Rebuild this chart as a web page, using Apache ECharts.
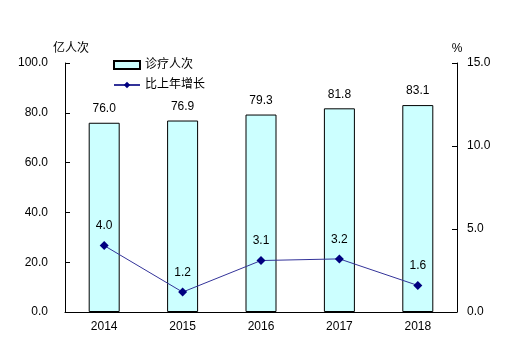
<!DOCTYPE html>
<html><head><meta charset="utf-8">
<script src="https://cdn.jsdelivr.net/npm/echarts@6/dist/echarts.min.js"></script>
<style>html,body{margin:0;padding:0;background:#fff}#c{width:519px;height:342px}</style>
</head><body><div id="c"></div>
<script>
const categories = ['2014','2015','2016','2017','2018'];
const visits = [76.0, 76.9, 79.3, 81.8, 83.1];
const growth = [4.0, 1.2, 3.1, 3.2, 1.6];
const leftTicks = {min:0, max:100, interval:20};
const rightTicks = {min:0, max:15, interval:5};

const font = 'Arial, "Liberation Sans", "Noto Sans CJK SC", sans-serif';
const chart = echarts.init(document.getElementById('c'));
chart.setOption({
  animation:false,
  textStyle:{fontFamily:font, color:'#000'},
  grid:{left:65, right:62, top:63, bottom:30},
  legend:{
    orient:'vertical', left:108, top:54, itemGap:8, itemWidth:26, itemHeight:8,
    textStyle:{fontSize:12, color:'#000', fontFamily:font},
    data:[{name:'诊疗人次', icon:'rect'},{name:'比上年增长'}]
  },
  xAxis:{
    type:'category', data:categories,
    axisLine:{lineStyle:{color:'#000', width:1}},
    axisTick:{inside:true, length:5, lineStyle:{color:'#000'}},
    axisLabel:{fontSize:12, color:'#000', margin:9, fontFamily:font}
  },
  yAxis:[{
    type:'value', ...leftTicks, name:'亿人次', nameGap:8,
    nameTextStyle:{fontSize:12, color:'#000', align:'center', padding:[0,0,0,12], fontFamily:font},
    axisLine:{show:true, lineStyle:{color:'#000'}},
    axisTick:{show:true, inside:true, length:5, lineStyle:{color:'#000'}},
    splitLine:{show:false},
    axisLabel:{fontSize:12, color:'#000', margin:17, formatter:v=>v.toFixed(1), fontFamily:font}
  },{
    type:'value', ...rightTicks, name:'%', nameGap:8,
    nameTextStyle:{fontSize:12, color:'#000', align:'center', padding:[0,0,0,0], fontFamily:font},
    axisLine:{show:true, lineStyle:{color:'#000'}},
    axisTick:{show:true, inside:true, length:5, lineStyle:{color:'#000'}},
    splitLine:{show:false},
    axisLabel:{fontSize:12, color:'#000', margin:10, formatter:v=>v.toFixed(1), fontFamily:font}
  }],
  series:[{
    name:'诊疗人次', type:'bar', data:visits, barWidth:31,
    itemStyle:{color:'#ccffff', borderColor:'#000', borderWidth:1},
    label:{show:true, position:'top', distance:8, fontSize:12, color:'#000', formatter:p=>p.value.toFixed(1), fontFamily:font}
  },{
    name:'比上年增长', type:'line', yAxisIndex:1, data:growth,
    symbol:'diamond', symbolSize:9,
    lineStyle:{color:'#333399', width:1},
    itemStyle:{color:'#000080'},
    label:{show:true, position:'top', distance:9, fontSize:12, color:'#000', formatter:p=>p.value.toFixed(1), fontFamily:font}
  }]
});
</script></body></html>
